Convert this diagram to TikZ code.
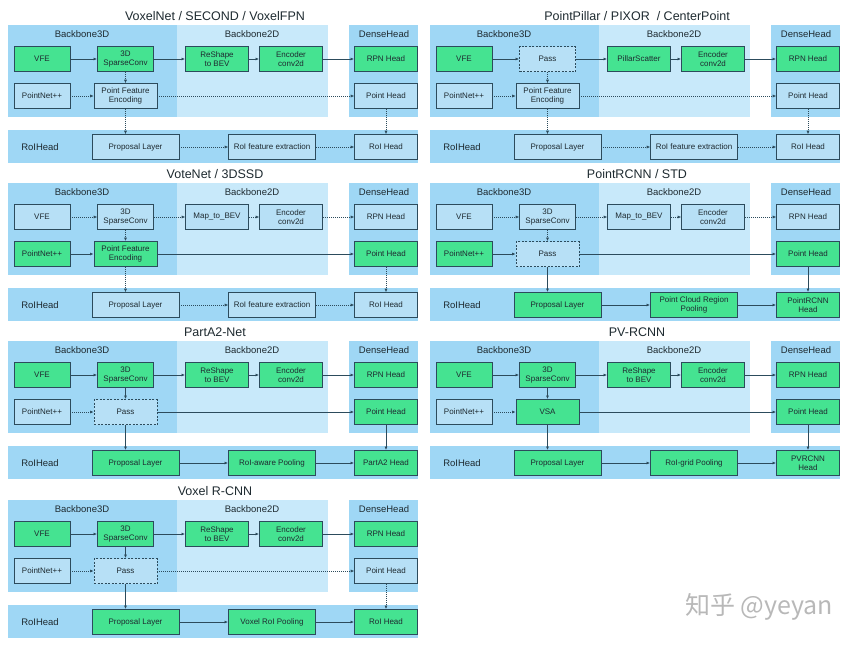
\documentclass[tikz,border=0pt]{standalone}
\usepackage{fontspec}
\setmainfont{Liberation Sans}
\newfontfamily\cjk{Noto Sans CJK SC}
\usetikzlibrary{arrows.meta}

\definecolor{deepbg}{HTML}{9FD7F5}
\definecolor{palebg}{HTML}{C8E9FA}
\definecolor{offfill}{HTML}{B7E0F6}
\definecolor{onfill}{HTML}{45E391}
\definecolor{edge}{HTML}{2C4B5C}
\definecolor{ink}{HTML}{1E2A30}

\tikzset{
  box/.style={draw=edge, text=ink, align=center, minimum height=25, inner sep=1pt, font=\fontsize{8}{8.8}\selectfont},
  greenbox/.style={box, fill=onfill, line width=0.9pt},
  bluebox/.style={box, fill=offfill, line width=0.6pt},
  passbox/.style={box, fill=offfill, line width=0.8pt, dash pattern=on 2pt off 1.5pt},
  boxs/.style={minimum width=56},
  boxm/.style={minimum width=63},
  boxl/.style={minimum width=87},
  flow/.style={-{Latex[length=3.5pt,width=3pt]}, draw=edge, line width=0.8pt},
  idle/.style={flow, line width=0.6pt, dash pattern=on 1pt off 1pt},
  region/.style={text=ink, font=\fontsize{9.5}{11}\selectfont},
  heading/.style={text=ink, font=\fontsize{12.5}{14}\selectfont},
  frame/.pic={
    \fill[deepbg] (0,0) rectangle (169,92);
    \fill[palebg] (169,0) rectangle (320,92);
    \fill[deepbg] (341,0) rectangle (410,92);
    \fill[deepbg] (0,105) rectangle (410,138);
    \node[region] (-b3d) at (74,9) {Backbone3D};
    \node[region] (-b2d) at (244,9) {Backbone2D};
    \node[region] (-dense) at (376,9) {DenseHead};
    \node[region] (-roi) at (32,122) {RoIHead};
  }
}

\begin{document}
\begin{tikzpicture}[x=1pt, y=-1pt]
\useasboundingbox (0,0) rectangle (859,646);

% VoxelNet / SECOND / VoxelFPN
\begin{scope}[shift={(8,25)}]
\pic (vx) at (0,0) {frame};
\node[heading] (vx-title) at (207,-9) {VoxelNet / SECOND / VoxelFPN};
\node[greenbox, boxs] (vx-vfe) at (34,34) {VFE};
\node[greenbox, boxs] (vx-spc) at (117.5,34) {3D\\SparseConv};
\node[greenbox, boxm] (vx-bev) at (209,34) {ReShape\\to BEV};
\node[greenbox, boxm] (vx-enc) at (283,34) {Encoder\\conv2d};
\node[greenbox, boxm] (vx-rpn) at (378,34) {RPN Head};
\node[bluebox, boxs] (vx-pn) at (34,71) {PointNet++};
\node[bluebox, boxm] (vx-pfe) at (117.5,71) {Point Feature\\Encoding};
\node[bluebox, boxm] (vx-ph) at (378,71) {Point Head};
\node[bluebox, boxl] (vx-prop) at (127.5,122) {Proposal Layer};
\node[bluebox, boxl] (vx-pool) at (264,122) {RoI feature extraction};
\node[bluebox, boxm] (vx-head) at (378,122) {RoI Head};
\draw[flow] (vx-vfe) -- (vx-spc);
\draw[flow] (vx-spc) -- (vx-bev);
\draw[flow] (vx-bev) -- (vx-enc);
\draw[flow] (vx-enc) -- (vx-rpn);
\draw[idle] (vx-spc) -- (vx-pfe);
\draw[idle] (vx-pn) -- (vx-pfe);
\draw[idle] (vx-pfe) -- (vx-ph);
\draw[idle] (vx-pfe) -- (vx-pfe |- vx-prop.north);
\draw[idle] (vx-ph) -- (vx-head);
\draw[idle] (vx-prop) -- (vx-pool);
\draw[idle] (vx-pool) -- (vx-head);
\end{scope}

% PointPillar / PIXOR / CenterPoint
\begin{scope}[shift={(430,25)}]
\pic (pp) at (0,0) {frame};
\node[heading] (pp-title) at (207,-9) {PointPillar / PIXOR \ / CenterPoint};
\node[greenbox, boxs] (pp-vfe) at (34,34) {VFE};
\node[passbox, boxs] (pp-pass) at (117.5,34) {Pass};
\node[greenbox, boxm] (pp-bev) at (209,34) {PillarScatter};
\node[greenbox, boxm] (pp-enc) at (283,34) {Encoder\\conv2d};
\node[greenbox, boxm] (pp-rpn) at (378,34) {RPN Head};
\node[bluebox, boxs] (pp-pn) at (34,71) {PointNet++};
\node[bluebox, boxm] (pp-pfe) at (117.5,71) {Point Feature\\Encoding};
\node[bluebox, boxm] (pp-ph) at (378,71) {Point Head};
\node[bluebox, boxl] (pp-prop) at (127.5,122) {Proposal Layer};
\node[bluebox, boxl] (pp-pool) at (264,122) {RoI feature extraction};
\node[bluebox, boxm] (pp-head) at (378,122) {RoI Head};
\draw[flow] (pp-vfe) -- (pp-pass);
\draw[flow] (pp-pass) -- (pp-bev);
\draw[flow] (pp-bev) -- (pp-enc);
\draw[flow] (pp-enc) -- (pp-rpn);
\draw[idle] (pp-pass) -- (pp-pfe);
\draw[idle] (pp-pn) -- (pp-pfe);
\draw[idle] (pp-pfe) -- (pp-ph);
\draw[idle] (pp-pfe) -- (pp-pfe |- pp-prop.north);
\draw[idle] (pp-ph) -- (pp-head);
\draw[idle] (pp-prop) -- (pp-pool);
\draw[idle] (pp-pool) -- (pp-head);
\end{scope}

% VoteNet / 3DSSD
\begin{scope}[shift={(8,183)}]
\pic (vn) at (0,0) {frame};
\node[heading] (vn-title) at (207,-9) {VoteNet / 3DSSD};
\node[bluebox, boxs] (vn-vfe) at (34,34) {VFE};
\node[bluebox, boxs] (vn-spc) at (117.5,34) {3D\\SparseConv};
\node[bluebox, boxm] (vn-bev) at (209,34) {Map\_to\_BEV};
\node[bluebox, boxm] (vn-enc) at (283,34) {Encoder\\conv2d};
\node[bluebox, boxm] (vn-rpn) at (378,34) {RPN Head};
\node[greenbox, boxs] (vn-pn) at (34,71) {PointNet++};
\node[greenbox, boxm] (vn-pfe) at (117.5,71) {Point Feature\\Encoding};
\node[greenbox, boxm] (vn-ph) at (378,71) {Point Head};
\node[bluebox, boxl] (vn-prop) at (127.5,122) {Proposal Layer};
\node[bluebox, boxl] (vn-pool) at (264,122) {RoI feature extraction};
\node[bluebox, boxm] (vn-head) at (378,122) {RoI Head};
\draw[idle] (vn-vfe) -- (vn-spc);
\draw[idle] (vn-spc) -- (vn-bev);
\draw[idle] (vn-bev) -- (vn-enc);
\draw[idle] (vn-enc) -- (vn-rpn);
\draw[idle] (vn-spc) -- (vn-pfe);
\draw[flow] (vn-pn) -- (vn-pfe);
\draw[flow] (vn-pfe) -- (vn-ph);
\draw[idle] (vn-pfe) -- (vn-pfe |- vn-prop.north);
\draw[idle] (vn-ph) -- (vn-head);
\draw[idle] (vn-prop) -- (vn-pool);
\draw[idle] (vn-pool) -- (vn-head);
\end{scope}

% PointRCNN / STD
\begin{scope}[shift={(430,183)}]
\pic (pr) at (0,0) {frame};
\node[heading] (pr-title) at (207,-9) {PointRCNN / STD};
\node[bluebox, boxs] (pr-vfe) at (34,34) {VFE};
\node[bluebox, boxs] (pr-spc) at (117.5,34) {3D\\SparseConv};
\node[bluebox, boxm] (pr-bev) at (209,34) {Map\_to\_BEV};
\node[bluebox, boxm] (pr-enc) at (283,34) {Encoder\\conv2d};
\node[bluebox, boxm] (pr-rpn) at (378,34) {RPN Head};
\node[greenbox, boxs] (pr-pn) at (34,71) {PointNet++};
\node[passbox, boxm] (pr-pass) at (117.5,71) {Pass};
\node[greenbox, boxm] (pr-ph) at (378,71) {Point Head};
\node[greenbox, boxl] (pr-prop) at (127.5,122) {Proposal Layer};
\node[greenbox, boxl] (pr-pool) at (264,122) {Point Cloud Region\\Pooling};
\node[greenbox, boxm] (pr-head) at (378,122) {PointRCNN\\Head};
\draw[idle] (pr-vfe) -- (pr-spc);
\draw[idle] (pr-spc) -- (pr-bev);
\draw[idle] (pr-bev) -- (pr-enc);
\draw[idle] (pr-enc) -- (pr-rpn);
\draw[idle] (pr-spc) -- (pr-pass);
\draw[flow] (pr-pn) -- (pr-pass);
\draw[flow] (pr-pass) -- (pr-ph);
\draw[flow] (pr-pass) -- (pr-pass |- pr-prop.north);
\draw[flow] (pr-ph) -- (pr-head);
\draw[flow] (pr-prop) -- (pr-pool);
\draw[flow] (pr-pool) -- (pr-head);
\end{scope}

% PartA2-Net
\begin{scope}[shift={(8,341)}]
\pic (pa) at (0,0) {frame};
\node[heading] (pa-title) at (207,-9) {PartA2-Net};
\node[greenbox, boxs] (pa-vfe) at (34,34) {VFE};
\node[greenbox, boxs] (pa-spc) at (117.5,34) {3D\\SparseConv};
\node[greenbox, boxm] (pa-bev) at (209,34) {ReShape\\to BEV};
\node[greenbox, boxm] (pa-enc) at (283,34) {Encoder\\conv2d};
\node[greenbox, boxm] (pa-rpn) at (378,34) {RPN Head};
\node[bluebox, boxs] (pa-pn) at (34,71) {PointNet++};
\node[passbox, boxm] (pa-pass) at (117.5,71) {Pass};
\node[greenbox, boxm] (pa-ph) at (378,71) {Point Head};
\node[greenbox, boxl] (pa-prop) at (127.5,122) {Proposal Layer};
\node[greenbox, boxl] (pa-pool) at (264,122) {RoI-aware Pooling};
\node[greenbox, boxm] (pa-head) at (378,122) {PartA2 Head};
\draw[flow] (pa-vfe) -- (pa-spc);
\draw[flow] (pa-spc) -- (pa-bev);
\draw[flow] (pa-bev) -- (pa-enc);
\draw[flow] (pa-enc) -- (pa-rpn);
\draw[flow] (pa-spc) -- (pa-pass);
\draw[idle] (pa-pn) -- (pa-pass);
\draw[flow] (pa-pass) -- (pa-ph);
\draw[flow] (pa-pass) -- (pa-pass |- pa-prop.north);
\draw[flow] (pa-ph) -- (pa-head);
\draw[flow] (pa-prop) -- (pa-pool);
\draw[flow] (pa-pool) -- (pa-head);
\end{scope}

% PV-RCNN
\begin{scope}[shift={(430,341)}]
\pic (pv) at (0,0) {frame};
\node[heading] (pv-title) at (207,-9) {PV-RCNN};
\node[greenbox, boxs] (pv-vfe) at (34,34) {VFE};
\node[greenbox, boxs] (pv-spc) at (117.5,34) {3D\\SparseConv};
\node[greenbox, boxm] (pv-bev) at (209,34) {ReShape\\to BEV};
\node[greenbox, boxm] (pv-enc) at (283,34) {Encoder\\conv2d};
\node[greenbox, boxm] (pv-rpn) at (378,34) {RPN Head};
\node[bluebox, boxs] (pv-pn) at (34,71) {PointNet++};
\node[greenbox, boxm] (pv-vsa) at (117.5,71) {VSA};
\node[greenbox, boxm] (pv-ph) at (378,71) {Point Head};
\node[greenbox, boxl] (pv-prop) at (127.5,122) {Proposal Layer};
\node[greenbox, boxl] (pv-pool) at (264,122) {RoI-grid Pooling};
\node[greenbox, boxm] (pv-head) at (378,122) {PVRCNN\\Head};
\draw[flow] (pv-vfe) -- (pv-spc);
\draw[flow] (pv-spc) -- (pv-bev);
\draw[flow] (pv-bev) -- (pv-enc);
\draw[flow] (pv-enc) -- (pv-rpn);
\draw[flow] (pv-spc) -- (pv-vsa);
\draw[idle] (pv-pn) -- (pv-vsa);
\draw[flow] (pv-vsa) -- (pv-ph);
\draw[flow] (pv-vsa) -- (pv-vsa |- pv-prop.north);
\draw[flow] (pv-ph) -- (pv-head);
\draw[flow] (pv-prop) -- (pv-pool);
\draw[flow] (pv-pool) -- (pv-head);
\end{scope}

% Voxel R-CNN
\begin{scope}[shift={(8,500)}]
\pic (vr) at (0,0) {frame};
\node[heading] (vr-title) at (207,-9) {Voxel R-CNN};
\node[greenbox, boxs] (vr-vfe) at (34,34) {VFE};
\node[greenbox, boxs] (vr-spc) at (117.5,34) {3D\\SparseConv};
\node[greenbox, boxm] (vr-bev) at (209,34) {ReShape\\to BEV};
\node[greenbox, boxm] (vr-enc) at (283,34) {Encoder\\conv2d};
\node[greenbox, boxm] (vr-rpn) at (378,34) {RPN Head};
\node[bluebox, boxs] (vr-pn) at (34,71) {PointNet++};
\node[passbox, boxm] (vr-pass) at (117.5,71) {Pass};
\node[bluebox, boxm] (vr-ph) at (378,71) {Point Head};
\node[greenbox, boxl] (vr-prop) at (127.5,122) {Proposal Layer};
\node[greenbox, boxl] (vr-pool) at (264,122) {Voxel RoI Pooling};
\node[greenbox, boxm] (vr-head) at (378,122) {RoI Head};
\draw[flow] (vr-vfe) -- (vr-spc);
\draw[flow] (vr-spc) -- (vr-bev);
\draw[flow] (vr-bev) -- (vr-enc);
\draw[flow] (vr-enc) -- (vr-rpn);
\draw[flow] (vr-spc) -- (vr-pass);
\draw[idle] (vr-pn) -- (vr-pass);
\draw[idle] (vr-pass) -- (vr-ph);
\draw[flow] (vr-pass) -- (vr-pass |- vr-prop.north);
\draw[idle] (vr-ph) -- (vr-head);
\draw[flow] (vr-prop) -- (vr-pool);
\draw[flow] (vr-pool) -- (vr-head);
\end{scope}

\node[text=black!28, font=\cjk\fontsize{25}{25}\selectfont] (mark) at (759,607) {知乎 @yeyan};
\end{tikzpicture}
\end{document}
